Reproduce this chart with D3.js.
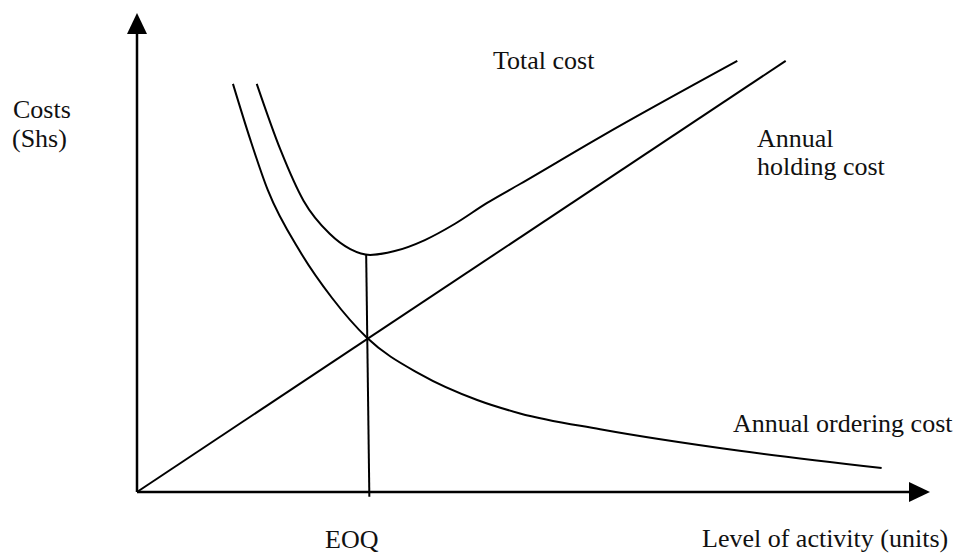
<!DOCTYPE html>
<html>
<head>
<meta charset="utf-8">
<script src="https://cdn.jsdelivr.net/npm/d3@7"></script>
<style>
  body { margin: 0; background: #fff; }
  text { font-family: "Liberation Serif", "Times New Roman", serif; font-size: 26px; fill: #111; }
</style>
</head>
<body>
<div id="svg"></div>
<script>
// curves (x = level of activity, y = cost, both 0-100)
var orderX = [12.1, 14.3, 16.5, 20.6, 24.6, 29.0, 35.7, 42.9, 48.3, 58.4, 76.0, 93.9];
var orderY = [85.2, 73.5, 63.0, 50.1, 40.5, 32.2, 24.6, 19.2, 16.4, 13.1, 8.6, 5.0];

var holdX = [0, 81.8];
var holdY = [0, 90.0];

var totalX = [15.1, 18.1, 21.0, 24.3, 26.9, 29.4, 32.5, 36.3, 40.1, 44.1, 48.3, 58.4, 75.7];
var totalY = [85.2, 71.4, 60.8, 53.9, 50.7, 49.5, 50.3, 52.6, 56.0, 60.3, 64.3, 74.1, 90.0];

// EOQ drop line (slightly tilted in the original)
var eoqX = [28.9, 29.3];
var eoqY = [49.5, -1.0];

var labels = [
  {t: "Costs", x: 13, y: 118},
  {t: "(Shs)", x: 12, y: 147},
  {t: "Total cost", x: 493, y: 69},
  {t: "Annual", x: 757, y: 147},
  {t: "holding cost", x: 757, y: 175},
  {t: "Annual ordering cost", x: 733, y: 432},
  {t: "EOQ", x: 325, y: 548},
  {t: "Level of activity (units)", x: 702, y: 547}
];

var width = 959, height = 555;

var svg = d3.select("#svg").append("svg")
  .attr("width", width)
  .attr("height", height);

var xScale = d3.scaleLinear().domain([0, 100]).range([137, 930]);
var yScale = d3.scaleLinear().domain([0, 100]).range([492, 13]);

function pts(xs, ys) {
  return xs.map(function(d, i) { return [d, ys[i]]; });
}

var line = d3.line()
  .x(function(d) { return xScale(d[0]); })
  .y(function(d) { return yScale(d[1]); });

var smooth = d3.line()
  .curve(d3.curveMonotoneX)
  .x(function(d) { return xScale(d[0]); })
  .y(function(d) { return yScale(d[1]); });

// axes
var arrowLen = 21, arrowHalf = 10;
svg.append("line")
  .attr("x1", xScale(0)).attr("y1", yScale(0))
  .attr("x2", xScale(0)).attr("y2", yScale(100) + arrowLen)
  .attr("stroke", "#000").attr("stroke-width", 2.5);
svg.append("path")
  .attr("d", "M" + xScale(0) + "," + yScale(100) +
    "L" + (xScale(0) - arrowHalf) + "," + (yScale(100) + arrowLen) +
    "L" + (xScale(0) + arrowHalf) + "," + (yScale(100) + arrowLen) + "Z")
  .attr("fill", "#000");

svg.append("line")
  .attr("x1", xScale(0)).attr("y1", yScale(0))
  .attr("x2", xScale(100) - arrowLen).attr("y2", yScale(0))
  .attr("stroke", "#000").attr("stroke-width", 2.5);
svg.append("path")
  .attr("d", "M" + xScale(100) + "," + yScale(0) +
    "L" + (xScale(100) - arrowLen) + "," + (yScale(0) - arrowHalf) +
    "L" + (xScale(100) - arrowLen) + "," + (yScale(0) + arrowHalf) + "Z")
  .attr("fill", "#000");

// cost curves
svg.append("path")
  .attr("d", line(pts(holdX, holdY)))
  .attr("stroke", "#000").attr("stroke-width", 2).attr("fill", "none");

svg.append("path")
  .attr("d", smooth(pts(orderX, orderY)))
  .attr("stroke", "#000").attr("stroke-width", 2).attr("fill", "none");

svg.append("path")
  .attr("d", smooth(pts(totalX, totalY)))
  .attr("stroke", "#000").attr("stroke-width", 2).attr("fill", "none");

svg.append("path")
  .attr("d", line(pts(eoqX, eoqY)))
  .attr("stroke", "#000").attr("stroke-width", 2).attr("fill", "none");

svg.selectAll("text.lbl")
  .data(labels)
  .enter().append("text")
  .attr("class", "lbl")
  .attr("x", function(d) { return d.x; })
  .attr("y", function(d) { return d.y; })
  .text(function(d) { return d.t; });
</script>
</body>
</html>
